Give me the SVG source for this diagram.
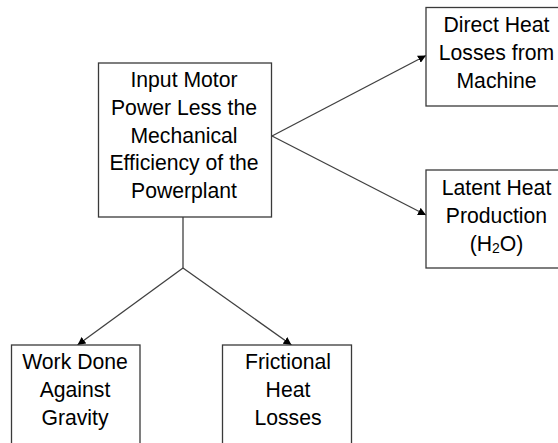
<svg xmlns="http://www.w3.org/2000/svg" width="558" height="443" viewBox="0 0 558 443">
  <style>
    .box { fill: #ffffff; stroke: #3a3a3a; stroke-width: 1.3; }
    .lbl { font-family: "Liberation Sans", Arial, sans-serif; font-size: 21.2px; fill: #000000; text-anchor: middle; }
    .sub { font-size: 14px; }
    .conn { fill: none; stroke: #404040; stroke-width: 1.3; }
  </style>
  <defs>
    <marker id="arrow" viewBox="0 0 10 10" refX="10" refY="5" markerWidth="8" markerHeight="8" markerUnits="userSpaceOnUse" orient="auto">
      <path d="M0,0 L10,5 L0,10 Z" fill="#000000"/>
    </marker>
  </defs>
  <rect width="558" height="443" fill="#ffffff"/>

  <g id="connectors">
    <line class="conn" x1="272" y1="136" x2="426" y2="55.5" marker-end="url(#arrow)"/>
    <line class="conn" x1="272" y1="136" x2="426" y2="215" marker-end="url(#arrow)"/>
    <polyline class="conn" points="183,217 183,268"/>
    <line class="conn" x1="183" y1="268" x2="77.5" y2="345" marker-end="url(#arrow)"/>
    <line class="conn" x1="183" y1="268" x2="291.5" y2="345" marker-end="url(#arrow)"/>
  </g>

  <g id="input-power">
    <rect class="box" x="98.5" y="63" width="173" height="154"/>
    <text class="lbl" x="184" y="87.3">Input Motor</text>
    <text class="lbl" x="184" y="115">Power Less the</text>
    <text class="lbl" x="184" y="142.7">Mechanical</text>
    <text class="lbl" x="184" y="170.4">Efficiency of the</text>
    <text class="lbl" x="184" y="198.1">Powerplant</text>
  </g>

  <g id="direct-heat">
    <rect class="box" x="426" y="7.5" width="140" height="98.5"/>
    <text class="lbl" x="496.5" y="32">Direct Heat</text>
    <text class="lbl" x="496.5" y="59.9">Losses from</text>
    <text class="lbl" x="496.5" y="87.8">Machine</text>
  </g>

  <g id="latent-heat">
    <rect class="box" x="426" y="170" width="140" height="98"/>
    <text class="lbl" x="496.5" y="195.3">Latent Heat</text>
    <text class="lbl" x="496.5" y="223.3">Production</text>
    <text class="lbl" x="496.5" y="251.3">(H<tspan class="sub" dy="2">2</tspan><tspan dy="-2">O)</tspan></text>
  </g>

  <g id="work-gravity">
    <rect class="box" x="11.5" y="345" width="128.5" height="110"/>
    <text class="lbl" x="75" y="368.6">Work Done</text>
    <text class="lbl" x="75" y="396.6">Against</text>
    <text class="lbl" x="75" y="424.6">Gravity</text>
  </g>

  <g id="frictional-heat">
    <rect class="box" x="222.5" y="345" width="129" height="110"/>
    <text class="lbl" x="288" y="368.6">Frictional</text>
    <text class="lbl" x="288" y="396.6">Heat</text>
    <text class="lbl" x="288" y="424.6">Losses</text>
  </g>
</svg>
